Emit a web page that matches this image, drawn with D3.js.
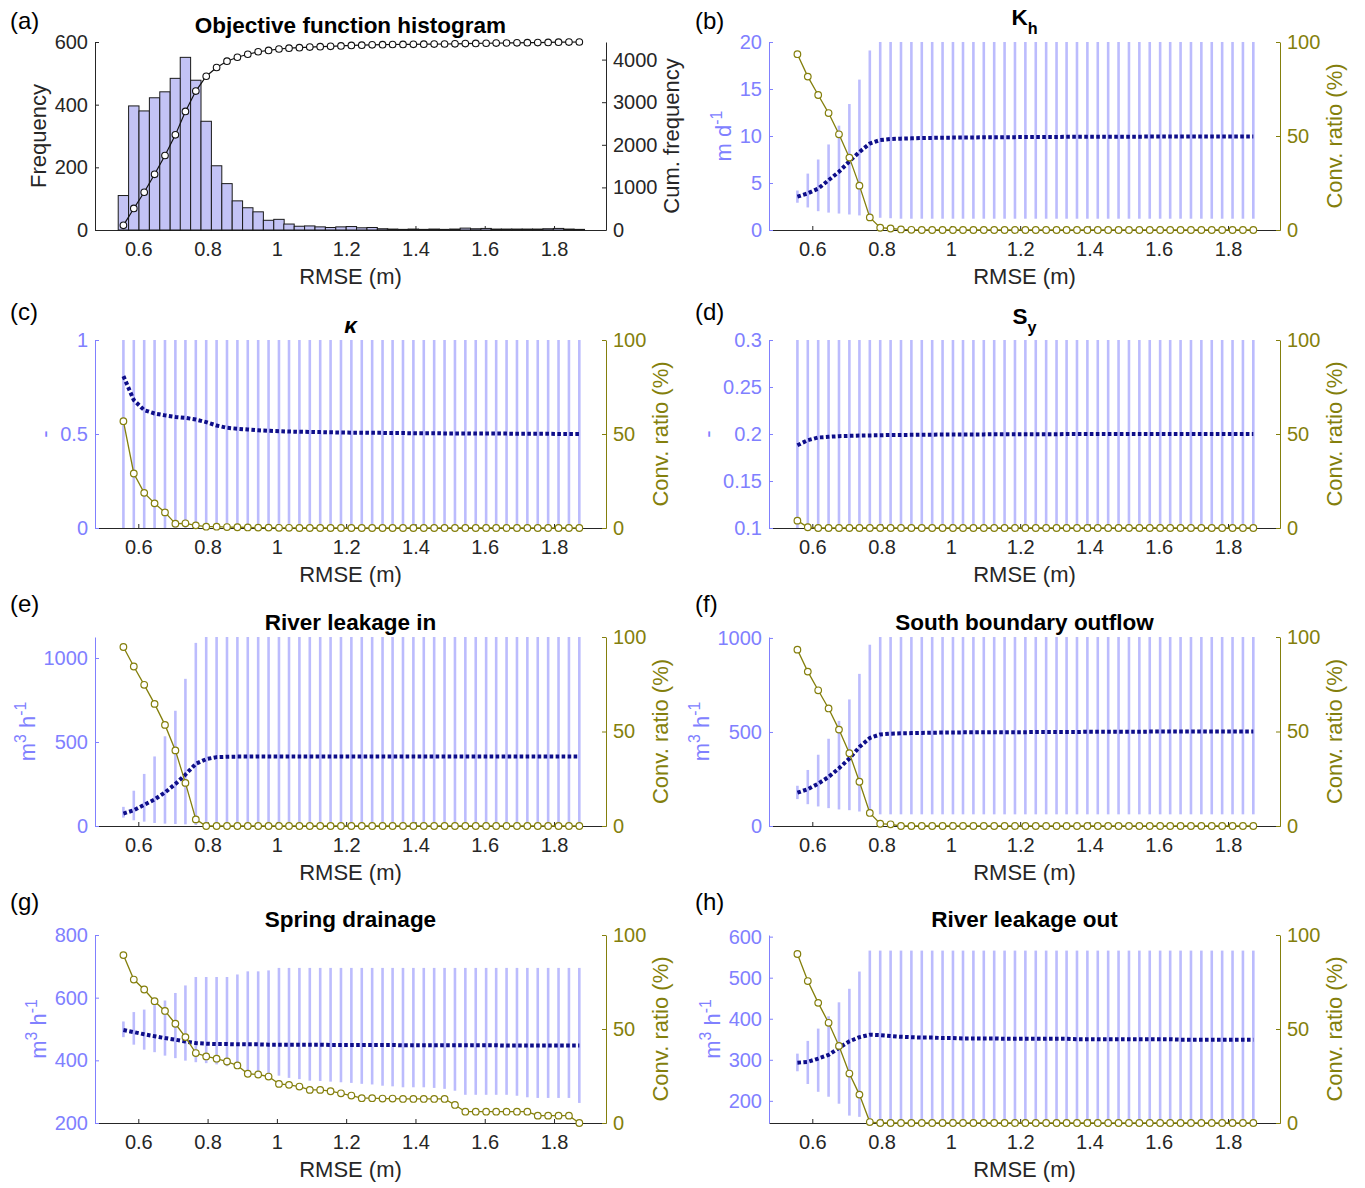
<!DOCTYPE html>
<html lang="en">
<head>
<meta charset="utf-8">
<title>Convergence of calibrated quantities with RMSE threshold</title>
<script src="https://cdn.jsdelivr.net/npm/d3@7"></script>
<style>
  html, body { margin: 0; padding: 0; background: #fff; }
  svg { display: block; }
</style>
</head>
<body>
<svg id="fig" width="1365" height="1188"></svg>
<script>
// ---------------------------------------------------------------
// Data
// ---------------------------------------------------------------
// RMSE thresholds (bin centres, m)
const rmse = [0.557,0.587,0.617,0.647,0.677,0.707,0.736,0.766,0.796,0.826,
              0.856,0.886,0.916,0.946,0.976,1.006,1.035,1.065,1.095,1.125,
              1.155,1.185,1.215,1.245,1.275,1.305,1.334,1.364,1.394,1.424,
              1.454,1.484,1.514,1.544,1.574,1.604,1.633,1.663,1.693,1.723,
              1.753,1.783,1.813,1.843,1.873];
const binWidth = 0.03;
const xTicks = [0.6, 0.8, 1, 1.2, 1.4, 1.6, 1.8];
const convTicks = [0, 50, 100];

// (a) histogram of the objective function
const histCounts = [110,396,380,422,441,484,551,478,347,205,
                    148,93,71,58,31,34,19,12,13,10,
                    8,10,11,7,8,4,3,2,3,2,
                    3,2,3,6,4,5,3,3,3,3,
                    3,4,5,3,2];
const histTicks = [0, 200, 400, 600];
const cumTicks = [0, 1000, 2000, 3000, 4000];

// (b) Kh
const khLow  = [2.9,2.4,2.0,1.85,1.75,1.65,1.55,1.45,1.3,1.25,
                1.2,1.2,1.2,1.2,1.2,1.2,1.2,1.2,1.2,1.2,
                1.2,1.2,1.2,1.2,1.2,1.2,1.2,1.2,1.2,1.2,
                1.2,1.2,1.2,1.2,1.2,1.2,1.2,1.2,1.2,1.2,
                1.2,1.2,1.2,1.2,1.2];
const khHigh = [4.2,6.0,7.5,9.1,11.1,13.4,16.0,19.1,20,20,
                20,20,20,20,20,20,20,20,20,20,
                20,20,20,20,20,20,20,20,20,20,
                20,20,20,20,20,20,20,20,20,20,
                20,20,20,20,20];
const khMean = [3.55,3.9,4.4,5.3,6.2,7.3,8.3,9.2,9.57,9.68,
                9.72,9.75,9.78,9.8,9.82,9.83,9.84,9.85,9.86,9.87,
                9.88,9.88,9.89,9.9,9.9,9.9,9.91,9.91,9.92,9.92,
                9.92,9.93,9.93,9.93,9.94,9.94,9.94,9.94,9.95,9.95,
                9.95,9.95,9.95,9.96,9.96];
const khConv = [93.5,81.6,71.8,62.2,50.9,38.5,23.6,6.7,1.2,0.8,
                0.3,0.1,0,0,0,0,0,0,0,0,
                0,0,0,0,0,0,0,0,0,0,
                0,0,0,0,0,0,0,0,0,0,
                0,0,0,0,0];
const khTicks = [0, 5, 10, 15, 20];

// (c) kappa
const kapLow  = [0,0,0,0,0,0,0,0,0,0, 0,0,0,0,0,0,0,0,0,0,
                 0,0,0,0,0,0,0,0,0,0, 0,0,0,0,0,0,0,0,0,0, 0,0,0,0,0];
const kapHigh = [1,1,1,1,1,1,1,1,1,1, 1,1,1,1,1,1,1,1,1,1,
                 1,1,1,1,1,1,1,1,1,1, 1,1,1,1,1,1,1,1,1,1, 1,1,1,1,1];
const kapMean = [0.808,0.68,0.627,0.609,0.599,0.591,0.586,0.577,0.563,0.545,
                 0.533,0.528,0.524,0.52,0.517,0.515,0.513,0.512,0.511,0.51,
                 0.509,0.508,0.507,0.507,0.506,0.506,0.505,0.505,0.504,0.504,
                 0.504,0.503,0.503,0.503,0.502,0.502,0.502,0.502,0.501,0.501,
                 0.501,0.501,0.5,0.5,0.5];
const kapConv = [56.8,29.0,18.7,13.1,8.3,2.3,2.5,1.4,0.7,0.7,
                 0.5,0.4,0.3,0.2,0.2,0.1,0.1,0,0,0,
                 0,0,0,0,0,0,0,0,0,0,
                 0,0,0,0,0,0,0,0,0,0,
                 0,0,0,0,0];
const kapTicks = [0, 0.5, 1];

// (d) Sy
const syLow  = [0.1,0.1,0.1,0.1,0.1,0.1,0.1,0.1,0.1,0.1, 0.1,0.1,0.1,0.1,0.1,0.1,0.1,0.1,0.1,0.1,
                0.1,0.1,0.1,0.1,0.1,0.1,0.1,0.1,0.1,0.1, 0.1,0.1,0.1,0.1,0.1,0.1,0.1,0.1,0.1,0.1,
                0.1,0.1,0.1,0.1,0.1];
const syHigh = [0.3,0.3,0.3,0.3,0.3,0.3,0.3,0.3,0.3,0.3, 0.3,0.3,0.3,0.3,0.3,0.3,0.3,0.3,0.3,0.3,
                0.3,0.3,0.3,0.3,0.3,0.3,0.3,0.3,0.3,0.3, 0.3,0.3,0.3,0.3,0.3,0.3,0.3,0.3,0.3,0.3,
                0.3,0.3,0.3,0.3,0.3];
const syMean = [0.188,0.1934,0.1963,0.197,0.1977,0.198,0.1983,0.1985,0.1987,0.1989,
                0.199,0.1991,0.1992,0.1993,0.1994,0.1995,0.1995,0.1996,0.1996,0.1997,
                0.1997,0.1997,0.1998,0.1998,0.1998,0.1998,0.1999,0.1999,0.1999,0.1999,
                0.1999,0.2,0.2,0.2,0.2,0.2,0.2,0.2,0.2,0.2,
                0.2,0.2,0.2,0.2,0.2];
const syConv = [3.9,0.4,0,0,0,0,0,0,0,0, 0,0,0,0,0,0,0,0,0,0,
                0,0,0,0,0,0,0,0,0,0, 0,0,0,0,0,0,0,0,0,0, 0,0,0,0,0];
const syTicks = [0.1, 0.15, 0.2, 0.25, 0.3];

// (e) river leakage in
const rinLow  = [50,34,26,18,14,12,10,6,2,2, 2,2,2,2,2,2,2,2,2,2,
                 2,2,2,2,2,2,2,2,2,2, 2,2,2,2,2,2,2,2,2,2, 2,2,2,2,2];
const rinHigh = [114,210,310,414,534,686,876,1090,1125,1125,
                 1125,1125,1125,1125,1125,1125,1125,1125,1125,1125,
                 1125,1125,1125,1125,1125,1125,1125,1125,1125,1125,
                 1125,1125,1125,1125,1125,1125,1125,1125,1125,1125,
                 1125,1125,1125,1125,1125];
const rinMean = [74,94,126,158,200,250,306,370,398,410,
                 412,413,413,414,414,414,414,414,414,414,
                 414,414,414,414,414,414,414,414,414,414,
                 414,414,414,414,414,414,414,414,414,414,
                 414,414,414,414,414];
const rinConv = [94.7,84.4,74.7,64.6,53.5,40.0,22.8,3.5,0,0,
                 0,0,0,0,0,0,0,0,0,0, 0,0,0,0,0,0,0,0,0,0,
                 0,0,0,0,0,0,0,0,0,0, 0,0,0,0,0];
const rinTicks = [0, 500, 1000];

// (f) south boundary outflow
const sbLow  = [143,116,104,95,88,84,77,70,62,62, 62,62,62,62,62,62,62,62,62,62,
                62,62,62,62,62,62,62,62,62,62, 62,62,62,62,62,62,62,62,62,62, 62,62,62,62,62];
const sbHigh = [214,298,379,464,559,673,809,964,1005,1005,
                1005,1005,1005,1005,1005,1005,1005,1005,1005,1005,
                1005,1005,1005,1005,1005,1005,1005,1005,1005,1005,
                1005,1005,1005,1005,1005,1005,1005,1005,1005,1005,
                1005,1005,1005,1005,1005];
const sbMean = [177,196,225,261,307,359,420,468,487,491,
                493,494,495,496,497,497,498,498,498,499,
                499,499,499,500,500,500,500,500,501,501,
                501,501,501,501,502,502,502,502,502,502,
                502,502,502,502,502];
const sbConv = [93.3,81.7,71.8,62.2,51.0,38.5,23.4,6.9,1.2,0.9,
                0,0,0,0,0,0,0,0,0,0, 0,0,0,0,0,0,0,0,0,0,
                0,0,0,0,0,0,0,0,0,0, 0,0,0,0,0];
const sbTicks = [0, 500, 1000];

// (g) spring drainage
const sdLow  = [474,450,434,426,415,407,399,394,391,387,
                381,375,366,361,356,351,344,340,335,334,
                332,330,328,325,323,319,317,314,314,314,
                312,309,303,290,290,290,290,290,287,282,
                280,280,280,280,264];
const sdHigh = [524,554,562,581,591,615,639,666,666,666,
                666,674,684,684,687,695,695,695,695,695,
                695,695,695,695,695,695,695,695,695,695,
                695,695,695,695,695,695,695,695,695,695,
                695,695,695,695,695];
const sdMean = [497,490,483,477,471,466,460,455,453,452,
                452,451,451,451,450,450,450,450,450,450,
                449,449,449,449,449,449,449,448,448,448,
                448,448,448,448,448,448,448,447,447,447,
                447,447,447,447,447];
const sdConv = [89.3,76.3,71.0,64.8,59.6,52.8,45.7,37.2,35.4,34.2,
                32.7,30.6,26.2,25.8,24.7,20.8,20.3,19.4,17.6,17.6,
                16.9,15.8,14.6,13.2,13.2,13.0,13.0,12.8,12.8,12.8,
                12.8,12.8,9.6,6.0,6.0,6.0,6.0,6.0,6.0,6.0,
                3.9,3.9,3.9,3.9,0];
const sdTicks = [200, 400, 600, 800];

// (h) river leakage out
const roLow  = [272,241,222,210,193,164,161,146,146,146,
                146,146,146,146,146,146,146,146,146,146,
                146,146,146,146,146,146,146,146,146,146,
                146,146,146,146,146,146,146,146,146,146,
                146,146,146,146,146];
const roHigh = [315,346,376,406,440,473,515,566,566,566,
                566,566,566,566,566,566,566,566,566,566,
                566,566,566,566,566,566,566,566,566,566,
                566,566,566,566,566,566,566,566,566,566,
                566,566,566,566,566];
const roMean = [293,295,303,312,329,345,355,361,360,358,
                356,355,354,354,353,353,352,352,352,352,
                351,351,351,351,351,351,351,350,350,350,
                350,350,350,350,350,350,350,349,349,349,
                349,349,349,349,349];
const roConv = [89.9,75.5,63.9,53.3,41.0,26.3,15.1,0.5,0,0,
                0,0,0,0,0,0,0,0,0,0, 0,0,0,0,0,0,0,0,0,0,
                0,0,0,0,0,0,0,0,0,0, 0,0,0,0,0];
const roTicks = [200, 300, 400, 500, 600];

// ---------------------------------------------------------------
// Layout and styling
// ---------------------------------------------------------------
const FONT = '"Liberation Sans", Arial, Helvetica, sans-serif';
const TICK_FS = 20, LABEL_FS = 22, TITLE_FS = 22.5, LETTER_FS = 24;
const DARK = '#262626';
const LEFT_C = '#8080ff';
const RANGE_C = '#bcbcfd';
const MEAN_C = '#0e0e8a';
const OLIVE = '#847f0c';
const HIST_FILL = '#c3c3f5';

const xDomain = [0.475, 1.95];
const cols = [{ l: 95, r: 606 }, { l: 769, r: 1280 }];
const rows = [{ t: 42, b: 230 }, { t: 340, b: 528 }, { t: 637, b: 826 }, { t: 935, b: 1123 }];
const letterBase = [29, 320, 612, 910];
const letterX = [10, 695];

const svg = d3.select('#fig')
  .attr('font-family', FONT);

// Writes a sequence of text segments, with optional super/subscripts
function richText(sel, segs, size) {
  let shift = 0;
  segs.forEach(s => {
    const ts = sel.append('tspan').text(s.t);
    let target = 0;
    if (s.sup) target = -size * 0.42;
    if (s.sub) target = size * 0.38;
    if (s.sup || s.sub) ts.attr('font-size', size * 0.72);
    if (target !== shift) { ts.attr('dy', target - shift); shift = target; }
  });
  return sel;
}

function styleAxis(g, color) {
  g.attr('font-family', FONT).attr('font-size', TICK_FS);
  g.select('.domain').attr('stroke', color).attr('stroke-width', 1);
  g.selectAll('.tick line').attr('stroke', color).attr('stroke-width', 1);
  g.selectAll('.tick text').attr('fill', color);
}

function maxTickWidth(g) {
  return d3.max(g.selectAll('.tick text').nodes(), n => n.getComputedTextLength());
}

function yLabel(xc, yc, segs, color) {
  const t = svg.append('text')
    .attr('transform', `translate(${xc},${yc}) rotate(-90)`)
    .attr('y', LABEL_FS * 0.35)
    .attr('text-anchor', 'middle')
    .attr('font-size', LABEL_FS)
    .attr('fill', color);
  richText(t, segs, LABEL_FS);
}

function frame(col, row, letter) {
  const c = cols[col], r = rows[row];
  const x = d3.scaleLinear().domain(xDomain).range([c.l, c.r]);

  // panel letter
  svg.append('text')
    .attr('x', letterX[col]).attr('y', letterBase[row])
    .attr('font-size', LETTER_FS).attr('fill', '#000')
    .text(`(${letter})`);

  // x axis
  const gx = svg.append('g')
    .attr('transform', `translate(0,${r.b})`)
    .call(d3.axisBottom(x).tickValues(xTicks).tickFormat(d => String(d))
      .tickSizeInner(-4).tickSizeOuter(0).tickPadding(12));
  styleAxis(gx, DARK);
  svg.append('text')
    .attr('x', (c.l + c.r) / 2).attr('y', r.b + 54)
    .attr('text-anchor', 'middle').attr('font-size', LABEL_FS).attr('fill', DARK)
    .text('RMSE (m)');
  return { c, r, x };
}

function title(c, r, segs, base) {
  const t = svg.append('text')
    .attr('x', (c.l + c.r) / 2).attr('y', base)
    .attr('text-anchor', 'middle')
    .attr('font-size', TITLE_FS).attr('font-weight', 'bold').attr('fill', '#000');
  richText(t, segs, TITLE_FS);
  return t;
}

// ---------------------------------------------------------------
// (a) Objective function histogram
// ---------------------------------------------------------------
(function drawHistogram() {
  const { c, r, x } = frame(0, 0, 'a');
  const cum = Array.from(d3.cumsum(histCounts));
  const total = cum[cum.length - 1];
  const y = d3.scaleLinear().domain([0, 600]).range([r.b, r.t]);
  const y2 = d3.scaleLinear().domain([0, total]).range([r.b, r.t]);

  svg.append('g').selectAll('rect')
    .data(histCounts)
    .join('rect')
    .attr('x', (d, i) => x(rmse[i] - binWidth / 2))
    .attr('width', (d, i) => x(rmse[i] + binWidth / 2) - x(rmse[i] - binWidth / 2))
    .attr('y', d => y(d))
    .attr('height', d => y(0) - y(d))
    .attr('fill', HIST_FILL)
    .attr('stroke', '#1a1a1a')
    .attr('stroke-width', 1);

  const gl = svg.append('g').attr('transform', `translate(${c.l},0)`)
    .call(d3.axisLeft(y).tickValues(histTicks).tickFormat(d => String(d))
      .tickSizeInner(-4).tickSizeOuter(0).tickPadding(7));
  styleAxis(gl, DARK);
  const gr = svg.append('g').attr('transform', `translate(${c.r},0)`)
    .call(d3.axisRight(y2).tickValues(cumTicks).tickFormat(d => String(d))
      .tickSizeInner(-4).tickSizeOuter(0).tickPadding(7));
  styleAxis(gr, DARK);

  const line = d3.line().x((d, i) => x(rmse[i])).y(d => y2(d));
  svg.append('path').datum(cum)
    .attr('d', line).attr('fill', 'none').attr('stroke', '#111').attr('stroke-width', 1.2);
  svg.append('g').selectAll('circle').data(cum).join('circle')
    .attr('cx', (d, i) => x(rmse[i])).attr('cy', d => y2(d)).attr('r', 3.3)
    .attr('fill', '#fff').attr('stroke', '#111').attr('stroke-width', 1.1);

  const yc = (r.t + r.b) / 2;
  yLabel(c.l - 7 - maxTickWidth(gl) - 16, yc, [{ t: 'Frequency' }], DARK);
  yLabel(c.r + 7 + maxTickWidth(gr) + 14, yc, [{ t: 'Cum. frequency' }], DARK);
  title(c, r, [{ t: 'Objective function histogram' }], r.t - 9);
})();

// ---------------------------------------------------------------
// (b)-(h) parameter / flux range, mean and convergence ratio
// ---------------------------------------------------------------
const unitFlux = [{ t: 'm' }, { t: '3', sup: true }, { t: ' h' }, { t: '-1', sup: true }];
const panels = [
  { letter: 'b', col: 1, row: 0, title: [{ t: 'K' }, { t: 'h', sub: true }], titleOff: 17,
    yDomain: [0, 20], yTicks: khTicks, yLabel: [{ t: 'm d' }, { t: '-1', sup: true }],
    low: khLow, high: khHigh, mean: khMean, conv: khConv },
  { letter: 'c', col: 0, row: 1, title: [{ t: 'κ' }], titleOff: 7, italic: true,
    yDomain: [0, 1], yTicks: kapTicks, yLabel: [{ t: '-' }],
    low: kapLow, high: kapHigh, mean: kapMean, conv: kapConv },
  { letter: 'd', col: 1, row: 1, title: [{ t: 'S' }, { t: 'y', sub: true }], titleOff: 16,
    yDomain: [0.1, 0.3], yTicks: syTicks, yLabel: [{ t: '-' }],
    low: syLow, high: syHigh, mean: syMean, conv: syConv },
  { letter: 'e', col: 0, row: 2, title: [{ t: 'River leakage in' }], titleOff: 7,
    yDomain: [0, 1125], yTicks: rinTicks, yLabel: unitFlux,
    low: rinLow, high: rinHigh, mean: rinMean, conv: rinConv },
  { letter: 'f', col: 1, row: 2, title: [{ t: 'South boundary outflow' }], titleOff: 7,
    yDomain: [0, 1005], yTicks: sbTicks, yLabel: unitFlux,
    low: sbLow, high: sbHigh, mean: sbMean, conv: sbConv },
  { letter: 'g', col: 0, row: 3, title: [{ t: 'Spring drainage' }], titleOff: 8,
    yDomain: [200, 800], yTicks: sdTicks, yLabel: unitFlux,
    low: sdLow, high: sdHigh, mean: sdMean, conv: sdConv },
  { letter: 'h', col: 1, row: 3, title: [{ t: 'River leakage out' }], titleOff: 8,
    yDomain: [146, 604], yTicks: roTicks, yLabel: unitFlux,
    low: roLow, high: roHigh, mean: roMean, conv: roConv }
];

panels.forEach(p => {
  const { c, r, x } = frame(p.col, p.row, p.letter);
  const y = d3.scaleLinear().domain(p.yDomain).range([r.b, r.t]);
  const y2 = d3.scaleLinear().domain([0, 100]).range([r.b, r.t]);

  // range of accepted values at each threshold
  svg.append('g').selectAll('line')
    .data(rmse)
    .join('line')
    .attr('x1', d => x(d)).attr('x2', d => x(d))
    .attr('y1', (d, i) => y(p.low[i])).attr('y2', (d, i) => y(p.high[i]))
    .attr('stroke', RANGE_C).attr('stroke-width', 2.6);

  // mean value
  const meanLine = d3.line().x((d, i) => x(rmse[i])).y(d => y(d));
  svg.append('path').datum(p.mean)
    .attr('d', meanLine).attr('fill', 'none')
    .attr('stroke', MEAN_C).attr('stroke-width', 4)
    .attr('stroke-dasharray', '3.6 2.4');

  // axes
  const gl = svg.append('g').attr('transform', `translate(${c.l},0)`)
    .call(d3.axisLeft(y).tickValues(p.yTicks).tickFormat(d => String(d))
      .tickSizeInner(-4).tickSizeOuter(0).tickPadding(7));
  styleAxis(gl, LEFT_C);
  const gr = svg.append('g').attr('transform', `translate(${c.r},0)`)
    .call(d3.axisRight(y2).tickValues(convTicks).tickSizeInner(-4).tickSizeOuter(0).tickPadding(7));
  styleAxis(gr, OLIVE);

  // convergence ratio
  const convLine = d3.line().x((d, i) => x(rmse[i])).y(d => y2(d));
  svg.append('path').datum(p.conv)
    .attr('d', convLine).attr('fill', 'none').attr('stroke', OLIVE).attr('stroke-width', 1.3);
  svg.append('g').selectAll('circle').data(p.conv).join('circle')
    .attr('cx', (d, i) => x(rmse[i])).attr('cy', d => y2(d)).attr('r', 3.3)
    .attr('fill', '#fff').attr('stroke', OLIVE).attr('stroke-width', 1.2);

  const yc = (r.t + r.b) / 2;
  yLabel(c.l - 7 - maxTickWidth(gl) - 16, yc, p.yLabel, LEFT_C);
  yLabel(c.r + 7 + maxTickWidth(gr) + 14, yc, [{ t: 'Conv. ratio (%)' }], OLIVE);
  const t = title(c, r, p.title, r.t - p.titleOff);
  if (p.italic) t.attr('font-style', 'italic');
});
</script>
</body>
</html>
